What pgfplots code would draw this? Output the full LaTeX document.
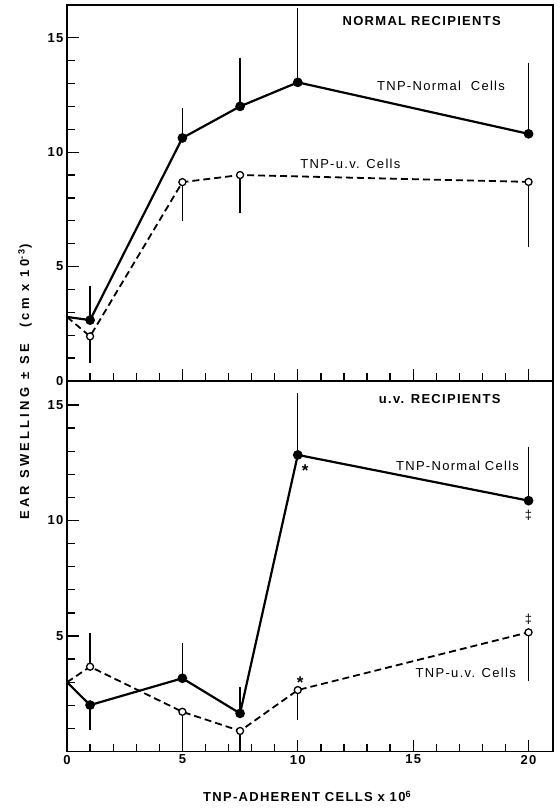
\documentclass[border=0pt]{standalone}
\usepackage{fontspec}
\setmainfont{Liberation Sans}[LetterSpace=10]
\newfontfamily\ylabfont{Liberation Sans}[LetterSpace=25]
\usepackage{pgfplots}
\pgfplotsset{compat=1.18}
\newcommand\fs{\fontsize{13}{15}\selectfont}

\pgfplotsset{
  panel/.style={
    scale only axis, width=486pt,
    xmin=0, xmax=21.06, ymin=0,
    tick align=inside, xtick pos=bottom, ytick pos=left,
    xtick={0,5,10,15,20}, minor xtick={1,...,19},
    major tick length=12pt, minor tick length=8pt,
    every tick/.style={black, line width=1.3pt},
    axis line style={line width=1.8pt},
    ticklabel style={font=\fs\bfseries},
    /pgf/number format/assume math mode=true,
  },
  normal/.style={black, line width=2.2pt, mark=*, mark size=3.7pt,
    mark options={solid, fill=black}},
  uv/.style={black, line width=1.8pt, dash pattern=on 7pt off 4pt,
    mark=*, mark size=3.5pt, mark options={solid, fill=white, line width=1.3pt}},
  % error bars only: tiny hidden marks, bars and caps drawn
  ebar/.style={black, solid, only marks, mark=*, mark size=1pt, forget plot,
    error bars/y explicit,
    error bars/error bar style={black, solid, line width=1.4pt},
    error bars/error mark options={black, solid, mark size=4.5pt, line width=1.4pt}},
}
\tikzset{
  astnode/.style={font=\fontsize{17}{17}\selectfont\bfseries, yshift=-3.7pt},
  lab/.style={font=\fs},
  blab/.style={font=\fs\bfseries},
}

\begin{document}
\begin{tikzpicture}
\useasboundingbox (0,0) rectangle (559pt,-810pt);

% top panel: normal recipients
\begin{axis}[panel, at={(67pt,-381pt)}, anchor=south west,
    height=376pt, ymax=16.43,
    ytick={0,5,10,15}, minor ytick={1,...,14},
    xticklabels={}]
\addplot[ebar, error bars/y dir=plus] coordinates {
  (1,2.66) +- (0,1.31) (5,10.62) +- (0,1.12) (7.5,12.0) +- (0,1.93)
  (10,13.05) +- (0,3.05) (20,10.8) +- (0,2.88)};
\addplot[ebar, error bars/y dir=minus] coordinates {
  (1,1.95) +- (0,0.95) (5,8.69) +- (0,1.52) (7.5,9.0) +- (0,1.46)
  (20,8.7) +- (0,2.66)};
\addplot[uv, mark indices={2,3,4,5}] coordinates {
  (0,2.8) (1,1.95) (5,8.69) (7.5,9.0) (20,8.7)};
\addplot[normal, mark indices={2,3,4,5,6}] coordinates {
  (0,2.8) (1,2.66) (5,10.62) (7.5,12.0) (10,13.05) (20,10.8)};
\node[anchor=east, blab] at (axis cs:18.95,15.73) {NORMAL RECIPIENTS};
\node[anchor=east, lab] at (axis cs:19.13,12.9) {TNP-Normal\ \ Cells};
\node[anchor=east, lab] at (axis cs:14.6,9.49) {TNP-u.v. Cells};
\end{axis}

% bottom panel: u.v. recipients
\begin{axis}[panel, at={(67pt,-751.5pt)}, anchor=south west,
    height=370.5pt, ymax=16.04,
    ytick={5,10,15}, minor ytick={1,...,14},
    xlabel={TNP-ADHERENT CELLS x 10\textsuperscript{6}},
    xlabel style={font=\fs\bfseries, at={(axis description cs:0.494,0)},
      anchor=center, yshift=-45pt}]
\addplot[ebar, error bars/y dir=plus] coordinates {
  (5,3.17) +- (0,1.34) (7.5,1.65) +- (0,0.94) (10,12.84) +- (0,2.49)
  (20,10.86) +- (0,2.12) (1,3.67) +- (0,1.26)};
\addplot[ebar, error bars/y dir=minus] coordinates {
  (1,2.01) +- (0,0.89) (5,1.72) +- (0,1.15) (7.5,0.89) +- (0,0.75)
  (10,2.66) +- (0,1.12) (20,5.16) +- (0,1.92)};
\addplot[uv, mark indices={2,3,4,5,6}] coordinates {
  (0,3.0) (1,3.67) (5,1.72) (7.5,0.89) (10,2.66) (20,5.16)};
\addplot[normal, mark indices={2,3,4,5,6}] coordinates {
  (0,3.0) (1,2.01) (5,3.17) (7.5,1.65) (10,12.84) (20,10.86)};
\node[anchor=east, blab] at (axis cs:18.94,15.25) {u.v. RECIPIENTS};
\node[anchor=east, lab] at (axis cs:19.74,12.36) {TNP-Normal Cells};
\node[anchor=east, lab] at (axis cs:19.6,3.41) {TNP-u.v. Cells};
\node[astnode] at (axis cs:10.32,12.3) {*};
\node[astnode] at (axis cs:10.1,3.13) {*};
\node[lab] at (axis cs:20,10.24) {‡};
\node[lab] at (axis cs:20,5.72) {‡};
\end{axis}

\node[rotate=90, font=\ylabfont\fs\bfseries] at (25pt,-382pt)
  {EAR SWELLING\hspace{8pt}±\hspace{8pt}SE\hspace{16pt}(cm x 10\textsuperscript{-3})};
\end{tikzpicture}
\end{document}
